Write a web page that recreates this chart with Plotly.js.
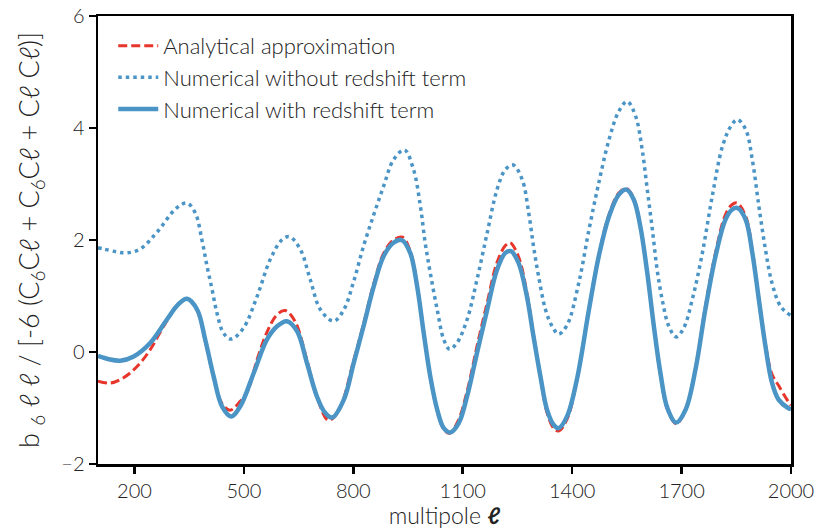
<!DOCTYPE html>
<html>
<head>
<meta charset="utf-8">
<script src="https://cdn.plot.ly/plotly-3.0.1.min.js"></script>
<style>html,body{margin:0;padding:0;background:#fff;}#plot{width:814px;height:532px;}</style>
</head>
<body>
<div id="plot"></div>
<script>
// Numerical without redshift term (dotted)
const ellNoZ = [100,115,150,180,216,262,315,344,367,385,399,413,426,444,465,499,536,572,604,625,655,682,710,746,774,801,828,856,883,910,940,965,984,997,1011,1030,1048,1064,1084,1112,1139,1167,1194,1217,1238,1263,1281,1294,1308,1327,1345,1363,1386,1418,1446,1473,1501,1528,1551,1574,1592,1606,1620,1633,1647,1665,1685,1706,1729,1757,1784,1812,1835,1853,1876,1894,1912,1930,1948,1972,2000];
const valNoZ = [1.86,1.84,1.79,1.77,1.84,2.14,2.57,2.66,2.48,2.0,1.53,1.11,0.70,0.34,0.23,0.43,0.99,1.65,2.0,2.06,1.83,1.29,0.755,0.55,0.755,1.26,1.89,2.45,2.96,3.43,3.61,3.26,2.6,1.95,1.41,0.755,0.22,0.05,0.16,0.58,1.29,2.125,2.9,3.26,3.34,3.08,2.48,1.89,1.35,0.755,0.46,0.32,0.48,1.23,2.18,3.02,3.79,4.3,4.475,4.21,3.61,2.9,2.18,1.47,0.93,0.46,0.27,0.43,0.93,1.77,2.78,3.67,4.03,4.15,3.97,3.43,2.6,1.83,1.23,0.81,0.65];

// Numerical with redshift term (solid)
const ellZ = [100,130,161,198,243,289,320,344,372,394,417,440,465,490,527,563,591,618,646,673,700,722,742,774,801,828,856,883,910,933,956,975,993,1011,1030,1048,1066,1089,1112,1139,1167,1194,1217,1232,1253,1276,1294,1313,1331,1349,1363,1386,1413,1446,1473,1501,1528,1549,1569,1587,1606,1624,1642,1661,1685,1711,1738,1765,1793,1820,1838,1854,1876,1894,1912,1930,1948,1966,1992,2000];
const valZ = [-0.07,-0.13,-0.155,-0.08,0.16,0.58,0.85,0.95,0.755,0.22,-0.435,-0.97,-1.15,-0.97,-0.375,0.22,0.46,0.55,0.37,-0.2,-0.79,-1.08,-1.17,-0.85,-0.2,0.46,1.17,1.71,1.95,2.0,1.77,1.17,0.34,-0.435,-1.03,-1.36,-1.435,-1.27,-0.79,-0.02,0.755,1.47,1.77,1.8,1.59,0.99,0.28,-0.435,-1.03,-1.3,-1.36,-1.15,-0.49,0.755,1.71,2.42,2.81,2.9,2.72,2.24,1.41,0.46,-0.375,-1.0,-1.26,-1.03,-0.315,0.755,1.71,2.36,2.54,2.57,2.36,1.77,0.93,0.1,-0.55,-0.85,-1.0,-1.02];

// Analytical approximation (dashed)
const ellAn = [100,134,170,207,243,280,320,344,372,394,417,440,462,490,510,536,563,590,613,640,673,700,732,760,801,828,856,883,910,935,956,975,993,1011,1030,1048,1064,1088,1112,1139,1167,1194,1217,1230,1253,1276,1294,1313,1331,1349,1363,1386,1413,1446,1473,1501,1528,1549,1569,1587,1606,1624,1642,1661,1685,1711,1738,1765,1793,1820,1838,1852,1876,1894,1912,1930,1948,1966,1992,2000];
const valAn = [-0.52,-0.555,-0.46,-0.26,0.04,0.46,0.85,0.95,0.74,0.2,-0.45,-0.92,-1.04,-0.88,-0.7,-0.14,0.35,0.66,0.74,0.55,-0.15,-0.8,-1.22,-1.05,-0.15,0.5,1.22,1.76,2.0,2.05,1.8,1.2,0.35,-0.45,-1.05,-1.38,-1.45,-1.22,-0.7,0.1,0.88,1.6,1.9,1.95,1.7,1.05,0.3,-0.45,-1.08,-1.36,-1.41,-1.2,-0.5,0.76,1.73,2.45,2.84,2.92,2.74,2.25,1.4,0.45,-0.4,-1.02,-1.28,-1.03,-0.3,0.8,1.77,2.45,2.63,2.66,2.42,1.8,0.95,0.13,-0.4,-0.6,-0.88,-0.95];

const xTicks = [200,500,800,1100,1400,1700,2000];
const yTicks = [-2,0,2,4,6];

const names = ['Analytical approximation','Numerical without redshift term','Numerical with redshift term'];
const blue = '#4a94c6';
const red = '#e8352b';
const fontFam = 'Lato, "Open Sans", sans-serif';
const ellB = '<b>ℓ</b>';
const ell = 'ℓ';

const traces = [
  {x: ellAn, y: valAn, name: names[0], mode: 'lines', legendrank: 1, line: {color: red, width: 3, dash: '9px,4px', shape: 'spline', smoothing: 1}},
  {x: ellNoZ, y: valNoZ, name: names[1], mode: 'lines', legendrank: 2, line: {color: blue, width: 3.5, dash: '3.5px,4px', shape: 'spline', smoothing: 1}},
  {x: ellZ, y: valZ, name: names[2], mode: 'lines', legendrank: 3, line: {color: blue, width: 4.5, shape: 'spline', smoothing: 1}}
];
const data = [traces[1], traces[0], traces[2]];

const yTitle = 'b <sub>6</sub> ' + ell + ' ' + ell + ' / [-6 (C<sub>6</sub>C' + ell + ' + C<sub>6</sub>C' + ell + ' + C' + ell + ' C' + ell + ')]';

const layout = {
  width: 814, height: 532,
  margin: {l: 98, r: 23, t: 16, b: 68},
  paper_bgcolor: '#fff', plot_bgcolor: '#fff',
  font: {family: fontFam, size: 20, color: '#222', weight: 300},
  showlegend: true,
  legend: {x: 0.022, y: 0.98, xanchor: 'left', yanchor: 'top', bgcolor: 'rgba(0,0,0,0)', font: {size: 22, family: fontFam, weight: 300}, traceorder: 'normal', itemwidth: 40, tracegroupgap: 0},
  xaxis: {
    range: [100, 2000], tickvals: xTicks, ticktext: xTicks.map(String), ticklabeloverflow: 'allow',
    showgrid: false, zeroline: false, showline: true, linecolor: '#000', linewidth: 2.5, mirror: true,
    ticks: 'outside', ticklen: 7, tickwidth: 2.5, tickcolor: '#000',
    tickfont: {size: 20, family: fontFam, weight: 300},
    title: {text: 'multipole ' + ellB, font: {size: 23, family: fontFam, weight: 300}, standoff: 4}
  },
  yaxis: {
    range: [-2, 6], tickvals: yTicks,
    showgrid: false, zeroline: false, showline: true, linecolor: '#000', linewidth: 2.5, mirror: true,
    ticks: 'outside', ticklen: 7, tickwidth: 2.5, tickcolor: '#000',
    tickfont: {size: 20, family: fontFam, weight: 300},
    title: {text: yTitle, font: {size: 27, family: fontFam, weight: 300}, standoff: 14}
  }
};

Plotly.newPlot('plot', data, layout, {staticPlot: true, displayModeBar: false});
</script>
</body>
</html>
